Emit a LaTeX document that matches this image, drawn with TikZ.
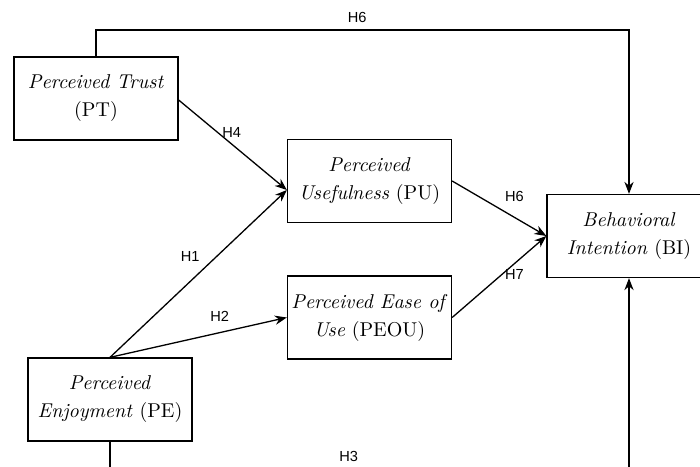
\documentclass[tikz,border=0pt]{standalone}
\usepackage{fontspec}
\newfontfamily\labelfont{Liberation Sans}
\usetikzlibrary{positioning,arrows.meta,calc}

\begin{document}
\begin{tikzpicture}[x=0.5pt,y=-0.5pt,
      var/.style={draw=black,line width=0.65pt,fill=white,minimum width=82pt,minimum height=41.5pt,
                  align=center,inner sep=1pt,font={\fontsize{10}{14}\selectfont}},
      fl/.style={-{Stealth[length=6pt,width=4.6pt]},line width=0.65pt,black},
      lbl/.style={font=\labelfont\fontsize{7.3}{8}\selectfont,inner sep=0.5pt}]
    \useasboundingbox (0,0) rectangle (700,466);
    \clip (0,0) rectangle (700,466);
    \fill[white] (0,0) rectangle (700,466);
    \node[var] (pt) at (96,98.5) {\textit{Perceived Trust}\\(PT)};
    \node[var] (pu) at (369.5,181) {\textit{Perceived}\\\textit{Usefulness} (PU)};
    \node[var] (peou) at (369.5,317.5) {\textit{Perceived Ease of}\\\textit{Use} (PEOU)};
    \node[var] (pe) at (110,399.5) {\textit{Perceived}\\\textit{Enjoyment} (PE)};
    \node[var] (bi) at (629,236) {\textit{Behavioral}\\\textit{Intention} (BI)};
    \coordinate (top) at (0,30);
    \coordinate (bot) at (0,470);
    \coordinate (pt out) at ($(pt.east)+(0,1.5)$);
    \coordinate (pu in) at ($(pu.west)+(0,9)$);
    \draw[fl] (pt out) -- node[lbl,pos=0.49,yshift=6pt]{H4} (pu in);
    \draw[fl] (pe.north) -- node[lbl,pos=0.6,xshift=-13pt]{H1} (pu in);
    \draw[fl] (pe.north) -- node[lbl,pos=0.62,yshift=8pt]{H2} (peou.west);
    \draw[fl] (pu.east) -- node[lbl,pos=0.66,yshift=10.5pt]{H6} (bi.west);
    \draw[fl] (peou.east) -- node[lbl,pos=0.66,yshift=-5.5pt]{H7} (bi.west);
    \draw[fl] (pt.north) -- (pt.north |- top) -- node[lbl,pos=0.49,yshift=6.5pt]{H6} (bi.north |- top) -- (bi.north);
    \draw[fl] (pe.south) -- (pe.south |- bot) -- node[lbl,pos=0.46,yshift=7pt]{H3} (bi.south |- bot) -- (bi.south);
  \end{tikzpicture}
\end{document}
